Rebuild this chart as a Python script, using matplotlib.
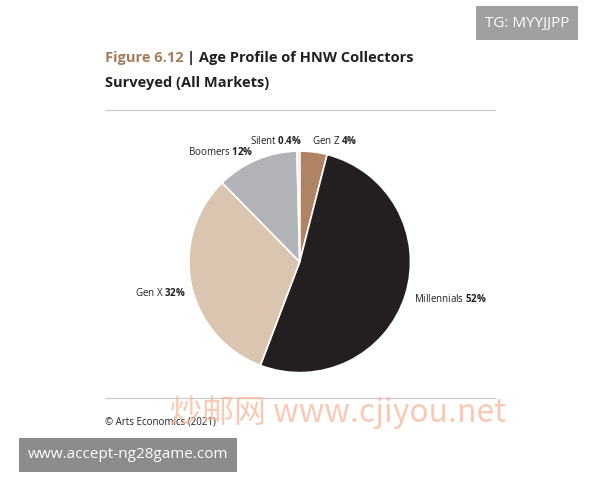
import matplotlib
matplotlib.use("Agg")
import matplotlib.pyplot as plt

plt.rcParams['font.family'] = ['Open Sans', 'DejaVu Sans']
plt.rcParams['mathtext.fontset'] = 'custom'
plt.rcParams['mathtext.rm'] = 'Open Sans'
plt.rcParams['mathtext.bf'] = 'Open Sans:bold'

labels = ['Gen Z', 'Millennials', 'Gen X', 'Boomers', 'Silent']
values = [4, 52, 32, 12, 0.4]
pct_text = ['4%', '52%', '32%', '12%', '0.4%']
colors = ['#b08463', '#231f20', '#d9c5b0', '#b1b3b6', '#efe5d2']

fig = plt.figure(figsize=(6, 4.8), dpi=100)
ax = fig.add_axes([0.313, 0.221, 0.373, 0.467])
ax.pie(values, colors=colors, startangle=90, counterclock=False,
       wedgeprops=dict(edgecolor='white', linewidth=1.2))
ax.set_xlim(-1.01, 1.01)
ax.set_ylim(-1.01, 1.01)
ax.set_aspect('equal')

pos = {'Gen Z': (312, 141, 'left'), 'Millennials': (414, 299, 'left'),
       'Gen X': (186, 293, 'right'), 'Boomers': (253, 152, 'right'),
       'Silent': (302, 141, 'right')}
for lab, p in zip(labels, pct_text):
    x, y, ha = pos[lab]
    fig.text(x / 600, 1 - y / 480, lab + r' $\mathbf{' + p.replace('%', r'\%') + '}$',
             ha=ha, va='center', fontsize=7, color='#231f20')

fig.text(105 / 600, 1 - 58 / 480, 'Figure 6.12', fontsize=10.5, fontweight='bold',
         color='#a57c5b', va='center')
fig.text(187 / 600, 1 - 58 / 480, '| Age Profile of HNW Collectors', fontsize=10.5,
         fontweight='bold', color='#231f20', va='center')
fig.text(105 / 600, 1 - 83 / 480, 'Surveyed (All Markets)', fontsize=10.5,
         fontweight='bold', color='#231f20', va='center')
for yy in (110, 398):
    fig.add_artist(plt.Line2D([105 / 600, 495 / 600], [1 - yy / 480] * 2,
                              color='#c8c8c8', lw=0.8))
fig.text(105 / 600, 1 - 422 / 480, '© Arts Economics (2021)', fontsize=7,
         color='#231f20', va='center')

fig.text(338 / 600, 1 - 412 / 480, '炒邮网 www.cjiyou.net', fontsize=23,
         family=['Noto Sans CJK SC', 'DejaVu Sans'], color='#f7b89c', alpha=0.75,
         ha='center', va='center')
fig.text(527 / 600, 1 - 23 / 480, 'TG: MYYJJPP', fontsize=11, color='white',
         ha='center', va='center',
         bbox=dict(boxstyle='square,pad=0.6', fc='#a0a0a0', ec='none'))
fig.text(128 / 600, 1 - 455 / 480, 'www.accept-ng28game.com', fontsize=11,
         color='white', ha='center', va='center',
         bbox=dict(boxstyle='square,pad=0.6', fc='#8c8c8c', ec='none'))

fig.savefig('out.png', dpi=100, facecolor='white')
